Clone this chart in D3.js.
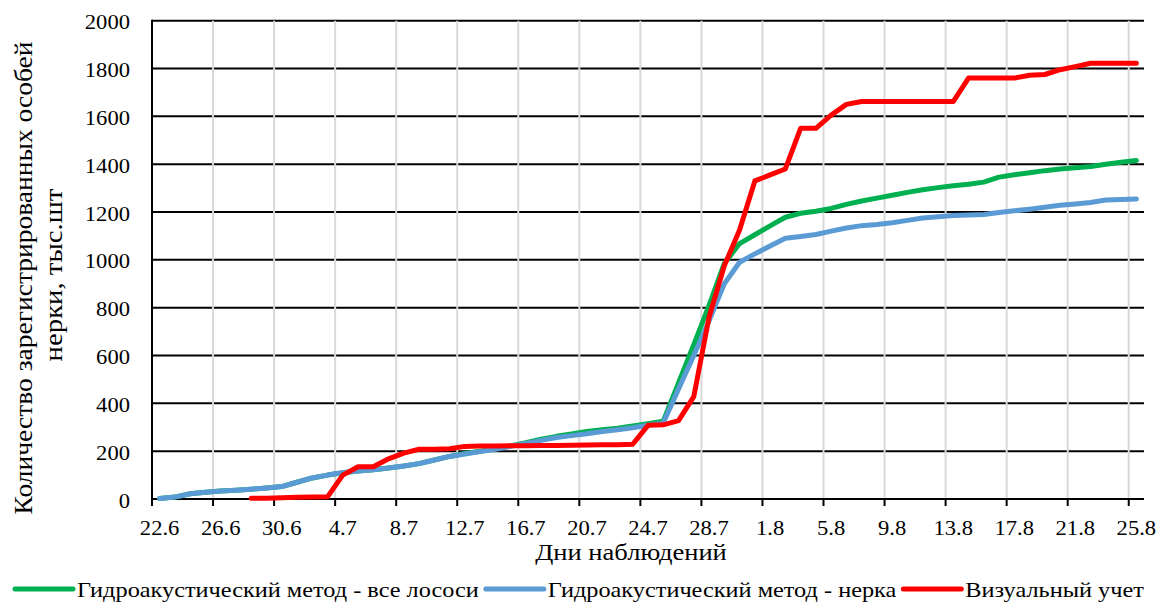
<!DOCTYPE html>
<html>
<head>
<meta charset="utf-8">
<script src="https://cdn.jsdelivr.net/npm/d3@7"></script>
<style>
  body { margin: 0; background: #fff; }
</style>
</head>
<body>
<svg id="chart" width="1160" height="602"></svg>
<script>
// Observation days (day.month), 22 June – 25 August
const days = [
  "22.6","23.6","24.6","25.6","26.6","27.6","28.6","29.6","30.6",
  "1.7","2.7","3.7","4.7","5.7","6.7","7.7","8.7","9.7","10.7","11.7","12.7","13.7","14.7","15.7",
  "16.7","17.7","18.7","19.7","20.7","21.7","22.7","23.7","24.7","25.7","26.7","27.7","28.7","29.7","30.7","31.7",
  "1.8","2.8","3.8","4.8","5.8","6.8","7.8","8.8","9.8","10.8","11.8","12.8","13.8","14.8","15.8",
  "16.8","17.8","18.8","19.8","20.8","21.8","22.8","23.8","24.8","25.8"
];
const xTickLabels = ["22.6","26.6","30.6","4.7","8.7","12.7","16.7","20.7","24.7","28.7",
                     "1.8","5.8","9.8","13.8","17.8","21.8","25.8"];
const yTicks = [0, 200, 400, 600, 800, 1000, 1200, 1400, 1600, 1800, 2000];

// Cumulative counts, thousand fish
const allSalmon = [
  2, 8, 22, 28, 33, 37, 41, 46, 52, 70,
  88, 100, 110, 117, 122, 130, 138, 148, 163, 178,
  190, 200, 210, 222, 235, 250, 262, 272, 282, 290,
  296, 305, 315, 325, 485, 645, 810, 985, 1068, 1105,
  1142, 1178, 1195, 1203, 1215, 1232, 1246, 1258, 1270, 1282,
  1293, 1302, 1310, 1316, 1325, 1346, 1356, 1364, 1373, 1380,
  1385, 1390, 1400, 1408, 1415
];
const sockeye = [
  2, 8, 22, 28, 33, 37, 41, 46, 52, 70,
  88, 100, 110, 117, 122, 130, 138, 148, 163, 178,
  188, 198, 208, 220, 232, 245, 257, 265, 273, 282,
  290, 298, 308, 318, 460, 600, 745, 900, 990, 1025,
  1058, 1090, 1098, 1106, 1120, 1133, 1143, 1148, 1155, 1165,
  1175, 1180, 1185, 1188, 1190, 1198, 1205, 1212, 1220, 1228,
  1234, 1240, 1250, 1252, 1254
];
const visual = [
  null, null, null, null, null, null, 3, 3, 5, 7,
  8, 9, 100, 135, 135, 168, 192, 208, 208, 210,
  220, 222, 222, 223, 223, 224, 224, 225, 226, 227,
  227, 229, 308, 310, 328, 428, 760, 975, 1125, 1330,
  1355, 1380, 1550, 1550, 1605, 1650, 1662, 1662, 1662, 1662,
  1662, 1662, 1662, 1760, 1760, 1760, 1760, 1772, 1775, 1795,
  1808, 1822, 1822, 1822, 1822
];

const seriesNames = [
  "Гидроакустический метод - все лососи",
  "Гидроакустический метод - нерка",
  "Визуальный учет"
];
const seriesColors = ["#00b050", "#5b9bd5", "#ff0000"];
const seriesValues = [allSalmon, sockeye, visual];

const FONT = '"Liberation Serif", "Times New Roman", serif';
function label(sel, size) {
  sel.style("font-family", FONT).style("font-size", size + "px").attr("fill", "#000");
}
// Widen a text run horizontally by factor k
function stretch(sel, k = 1.13) {
  sel.each(function () {
    const w = this.getComputedTextLength();
    d3.select(this).attr("textLength", w * k).attr("lengthAdjust", "spacingAndGlyphs");
  });
}

const svg = d3.select("#chart");
const plotLeft = 152, plotRight = 1144, plotTop = 20.7, plotBottom = 499;

const x = d3.scaleBand().domain(days).range([plotLeft, plotRight]).padding(0);
const bw = x.bandwidth();
const cx = d => x(d) + bw / 2;
const y = d3.scaleLinear().domain([0, 2000]).range([plotBottom, plotTop]);

// Horizontal gridlines
svg.append("g").selectAll("line").data(yTicks.filter(v => v > 0)).join("line")
  .attr("x1", plotLeft).attr("x2", plotRight)
  .attr("y1", d => y(d)).attr("y2", d => y(d))
  .attr("stroke", "#000").attr("stroke-width", 2);

// Vertical gridlines at category boundaries
svg.append("g").selectAll("line").data(xTickLabels.slice(1)).join("line")
  .attr("x1", d => x(d)).attr("x2", d => x(d))
  .attr("y1", plotTop).attr("y2", plotBottom)
  .attr("stroke", "#d9d9d9").attr("stroke-width", 2);

// Axes
svg.append("line").attr("x1", plotLeft).attr("x2", plotLeft).attr("y1", plotTop - 1).attr("y2", plotBottom + 1)
  .attr("stroke", "#000").attr("stroke-width", 2);
svg.append("line").attr("x1", plotLeft - 1).attr("x2", plotRight).attr("y1", plotBottom).attr("y2", plotBottom)
  .attr("stroke", "#000").attr("stroke-width", 2);
svg.append("g").selectAll("line").data(xTickLabels).join("line")
  .attr("x1", d => x(d)).attr("x2", d => x(d))
  .attr("y1", plotBottom).attr("y2", plotBottom + 7)
  .attr("stroke", "#000").attr("stroke-width", 2);

// Tick labels
svg.append("g").selectAll("text").data(xTickLabels).join("text")
  .attr("x", d => cx(d)).attr("y", 535)
  .attr("text-anchor", "middle").call(label, 20)
  .text(d => d).call(stretch);
svg.append("g").selectAll("text").data(yTicks).join("text")
  .attr("x", 130).attr("y", d => y(d) + 8.5)
  .attr("text-anchor", "end").call(label, 20)
  .text(d => d).call(stretch);

// Series lines
const line = d3.line()
  .defined(d => d.v !== null)
  .x(d => cx(d.day)).y(d => y(d.v));
seriesValues.forEach((vals, k) => {
  svg.append("path")
    .datum(vals.map((v, i) => ({ day: days[i], v })))
    .attr("d", line)
    .attr("fill", "none")
    .attr("stroke", seriesColors[k])
    .attr("stroke-width", 5)
    .attr("stroke-linejoin", "round")
    .attr("stroke-linecap", "round");
});

// Axis titles
svg.append("text").attr("x", 631).attr("y", 560).attr("text-anchor", "middle")
  .call(label, 23.5).text("Дни наблюдений").call(stretch);
svg.append("text").attr("transform", "translate(32,278) rotate(-90)")
  .attr("text-anchor", "middle").call(label, 25)
  .text("Количество зарегистрированных  особей").call(stretch, 1.1);
svg.append("text").attr("transform", "translate(62,275) rotate(-90)")
  .attr("text-anchor", "middle").call(label, 25)
  .text("нерки, тыс.шт").call(stretch, 1.15);

// Legend: sample stroke followed by series name
const legend = svg.append("g");
let tx = 77;
seriesNames.forEach((name, k) => {
  legend.append("line").attr("x1", tx - 62).attr("x2", tx - 4)
    .attr("y1", 589).attr("y2", 589)
    .attr("stroke", seriesColors[k]).attr("stroke-width", 5).attr("stroke-linecap", "round");
  const t = legend.append("text").attr("x", tx).attr("y", 597)
    .call(label, 21.5).text(name).call(stretch);
  tx += +t.attr("textLength") + 69;
});
</script>
</body>
</html>
